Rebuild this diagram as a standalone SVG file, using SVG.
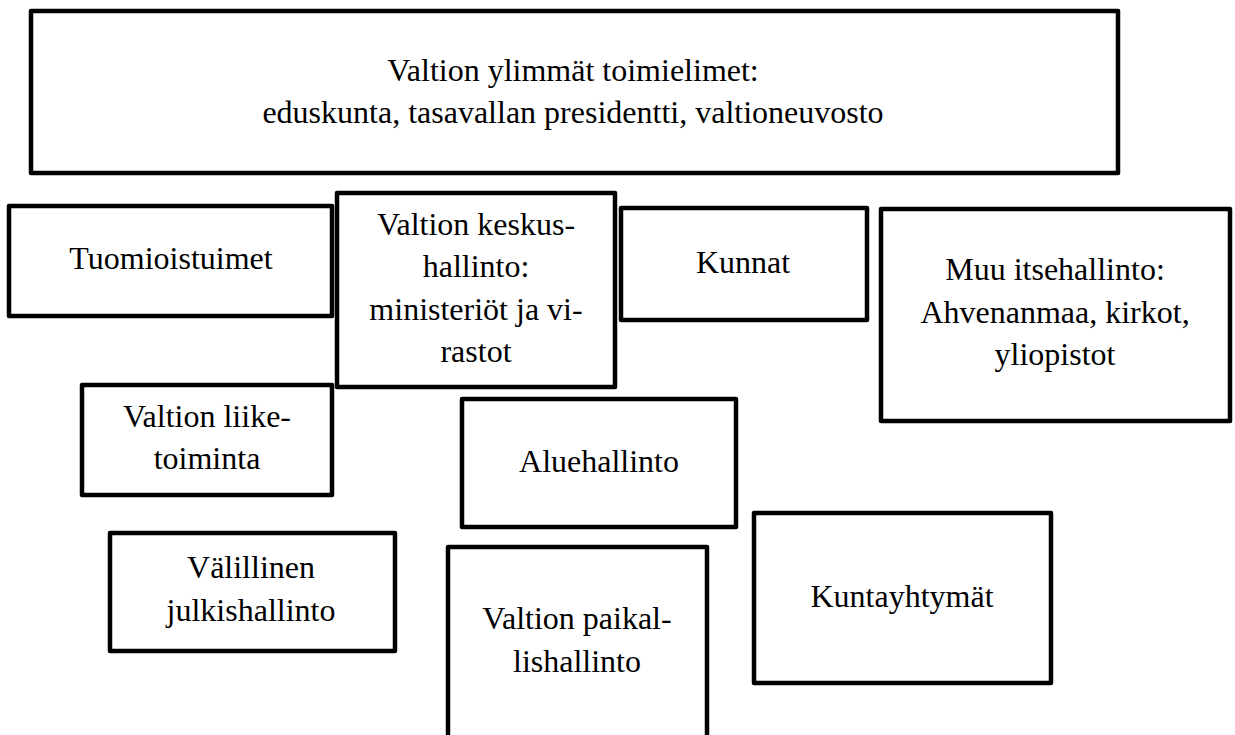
<svg xmlns="http://www.w3.org/2000/svg" width="1235" height="735" viewBox="0 0 1235 735">
  <style>
    .box { fill: #ffffff; stroke: #000000; stroke-width: 4.5; stroke-linejoin: round; }
    .lbl { font-family: "Liberation Serif", "Times New Roman", serif; font-size: 32px; fill: #000000; text-anchor: middle; }
  </style>
  <rect width="1235" height="735" fill="#ffffff"/>

  <!-- no connectors in this chart -->
  <g id="connectors"/>

  <g id="ylimmat">
    <rect class="box" x="31" y="11" width="1087" height="162"/>
    <text class="lbl" x="573" y="81">Valtion ylimmät toimielimet:</text>
    <text class="lbl" x="573" y="123">eduskunta, tasavallan presidentti, valtioneuvosto</text>
  </g>

  <g id="tuomioistuimet">
    <rect class="box" x="9" y="206" width="323" height="110"/>
    <text class="lbl" x="171" y="269">Tuomioistuimet</text>
  </g>

  <g id="keskushallinto">
    <rect class="box" x="337" y="193" width="278" height="194"/>
    <text class="lbl" x="476" y="235">Valtion keskus-</text>
    <text class="lbl" x="476" y="277">hallinto:</text>
    <text class="lbl" x="476" y="320">ministeriöt ja vi-</text>
    <text class="lbl" x="476" y="362">rastot</text>
  </g>

  <g id="kunnat">
    <rect class="box" x="621" y="208" width="246" height="112"/>
    <text class="lbl" x="743" y="273">Kunnat</text>
  </g>

  <g id="muu-itsehallinto">
    <rect class="box" x="881" y="209" width="349" height="212"/>
    <text class="lbl" x="1055" y="280">Muu itsehallinto:</text>
    <text class="lbl" x="1055" y="323">Ahvenanmaa, kirkot,</text>
    <text class="lbl" x="1055" y="365">yliopistot</text>
  </g>

  <g id="liiketoiminta">
    <rect class="box" x="82" y="385" width="250" height="110"/>
    <text class="lbl" x="207" y="427">Valtion liike-</text>
    <text class="lbl" x="207" y="469">toiminta</text>
  </g>

  <g id="aluehallinto">
    <rect class="box" x="462" y="399" width="274" height="128"/>
    <text class="lbl" x="599" y="472">Aluehallinto</text>
  </g>

  <g id="valillinen">
    <rect class="box" x="110" y="533" width="285" height="118"/>
    <text class="lbl" x="251" y="578">Välillinen</text>
    <text class="lbl" x="251" y="621">julkishallinto</text>
  </g>

  <g id="paikallishallinto">
    <rect class="box" x="448" y="547" width="259" height="200"/>
    <text class="lbl" x="577" y="629">Valtion paikal-</text>
    <text class="lbl" x="577" y="672">lishallinto</text>
  </g>

  <g id="kuntayhtymat">
    <rect class="box" x="754" y="513" width="297" height="170"/>
    <text class="lbl" x="902" y="607">Kuntayhtymät</text>
  </g>
</svg>
